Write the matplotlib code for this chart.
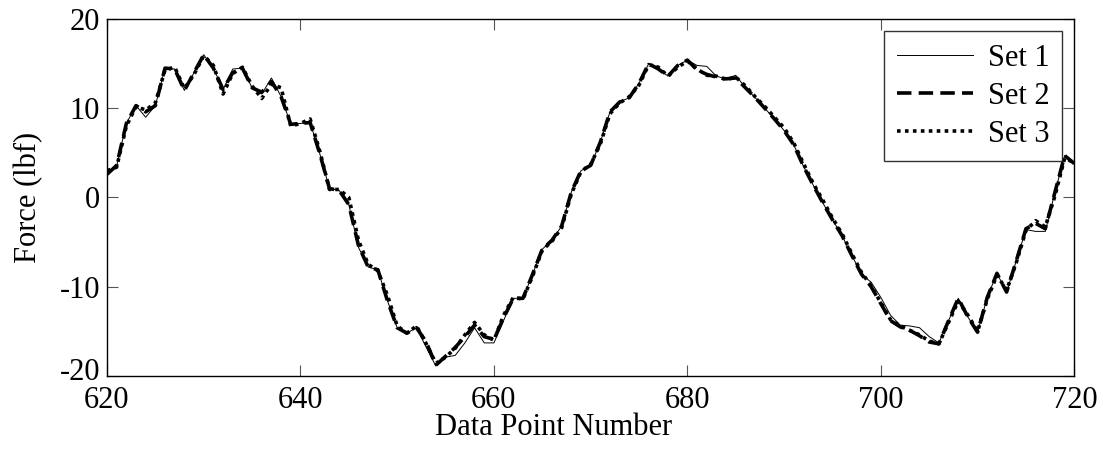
import matplotlib.pyplot as plt
import matplotlib.transforms as mtransforms
import numpy as np

# data point numbers and measured force for the three runs
points = np.arange(620, 721)

set1 = [
    2.6, 3.5, 8.3, 10.3, 9.0, 10.3, 14.5, 14.4, 12.0, 14.0,
    16.0, 14.5, 12.1, 14.4, 14.5, 12.3, 11.6, 13.4, 11.3, 8.2,
    8.3, 8.4, 4.9, 1.0, 0.8, -0.8, -5.6, -7.8, -8.1, -11.6,
    -14.6, -15.2, -14.6, -16.8, -18.9, -17.9, -17.7, -16.3, -14.6, -16.3,
    -16.3, -13.8, -11.3, -11.3, -8.6, -5.8, -4.8, -3.2, 0.6, 3.0,
    3.6, 6.2, 9.6, 10.7, 11.2, 12.8, 15.0, 14.4, 13.6, 14.8,
    15.4, 14.8, 14.7, 13.6, 13.3, 13.7, 12.3, 11.2, 10.0, 8.8,
    7.5, 5.9, 3.5, 1.4, -0.6, -2.5, -4.3, -6.5, -8.6, -9.5,
    -11.2, -13.2, -14.3, -14.4, -14.6, -15.6, -16.3, -13.8, -11.3, -13.4,
    -15.1, -11.2, -8.5, -10.6, -7.1, -3.6, -3.8, -3.8, 0.6, 4.7,
    3.8,
]

set2 = [
    2.6, 3.6, 8.3, 10.3, 9.6, 10.3, 14.5, 14.4, 12.0, 14.0,
    16.0, 14.5, 12.1, 14.0, 14.5, 12.3, 11.8, 13.0, 11.3, 8.2,
    8.3, 8.4, 4.9, 1.0, 0.8, -0.8, -5.4, -7.8, -8.1, -11.6,
    -14.6, -15.2, -14.6, -16.2, -18.8, -17.8, -16.8, -15.6, -14.3, -15.6,
    -15.9, -13.5, -11.3, -11.3, -8.6, -5.8, -4.8, -3.2, 0.6, 3.0,
    3.6, 6.2, 9.6, 10.7, 11.2, 12.8, 15.0, 14.4, 13.6, 14.8,
    15.4, 14.3, 13.8, 13.5, 13.3, 13.4, 12.3, 11.2, 10.0, 8.8,
    7.5, 5.9, 3.5, 1.4, -0.6, -2.5, -4.3, -6.5, -8.6, -10.0,
    -11.9, -13.8, -14.5, -14.9, -15.5, -16.2, -16.4, -13.8, -11.3, -13.4,
    -15.1, -11.2, -8.5, -10.6, -7.1, -3.5, -2.9, -3.5, 0.6, 4.7,
    3.8,
]

set3 = [
    3.0, 3.4, 8.0, 10.2, 9.8, 10.6, 14.3, 14.6, 12.2, 13.8,
    15.9, 14.8, 11.6, 13.9, 14.6, 12.5, 11.1, 12.7, 12.3, 8.0,
    8.3, 8.8, 5.2, 0.9, 0.9, 0.0, -4.8, -7.5, -8.2, -11.0,
    -14.4, -15.2, -14.4, -16.4, -18.6, -17.9, -16.9, -15.4, -14.0, -15.4,
    -16.0, -13.2, -11.2, -11.4, -8.8, -5.9, -4.9, -3.4, 0.4, 2.9,
    3.7, 6.0, 9.4, 10.6, 11.3, 12.6, 14.9, 14.6, 13.6, 14.6,
    15.3, 14.4, 13.7, 13.6, 13.2, 13.5, 12.5, 11.3, 10.2, 9.0,
    7.8, 6.1, 3.8, 1.6, -0.3, -2.3, -4.1, -6.3, -8.4, -9.9,
    -11.8, -13.7, -14.4, -14.9, -15.4, -16.1, -16.4, -14.0, -11.6, -13.2,
    -15.0, -11.4, -8.7, -10.4, -7.3, -3.7, -2.6, -3.3, 0.2, 4.4,
    3.9,
]

plt.rcParams["font.family"] = ["Liberation Serif", "DejaVu Serif"]
plt.rcParams["axes.unicode_minus"] = False

fig = plt.figure(figsize=(11.03, 4.54), dpi=100)
ax = fig.add_axes([0.097, 0.172, 0.877, 0.786])

ax.plot(points, set1, "-", color="black", lw=0.7, label="Set 1")
ax.plot(points, set2, color="black", lw=2.6, linestyle=(0, (4, 2)), label="Set 2")
ax.plot(points, set3, color="black", lw=2.6, linestyle=(0, (1, 1.2)), label="Set 3")

ax.set_xlim(620, 720)
ax.set_ylim(-20, 20)
ax.set_xticks(np.arange(620, 721, 20))
ax.set_yticks(np.arange(-20, 21, 10))
ax.tick_params(direction="in", length=8, width=0.8, color="#555555",
               top=True, right=True, labelsize=22)
ax.tick_params(axis="x", pad=7)
ax.tick_params(axis="y", pad=5)
for spine in ax.spines.values():
    spine.set_linewidth(1.0)

# lift the bottom y label a little so it clears the first x label
fig.canvas.draw()
lift = mtransforms.ScaledTranslation(0, 5 / 72, fig.dpi_scale_trans)
bottom_label = ax.get_yticklabels()[0]
bottom_label.set_transform(bottom_label.get_transform() + lift)

ax.set_xlabel("Data Point Number", fontsize=22)
ax.xaxis.set_label_coords(0.462, -0.105)
ax.set_ylabel("Force (lbf)", fontsize=22)
ax.yaxis.set_label_coords(-0.066, 0.5)

leg = ax.legend(loc="upper right", fontsize=22, frameon=True, fancybox=False,
                handlelength=2.5, borderpad=0.4, labelspacing=0.3,
                handletextpad=0.5, borderaxespad=0.4)
leg.get_frame().set_edgecolor("black")
leg.get_frame().set_linewidth(1.0)

fig.savefig("out.png", dpi=100)
